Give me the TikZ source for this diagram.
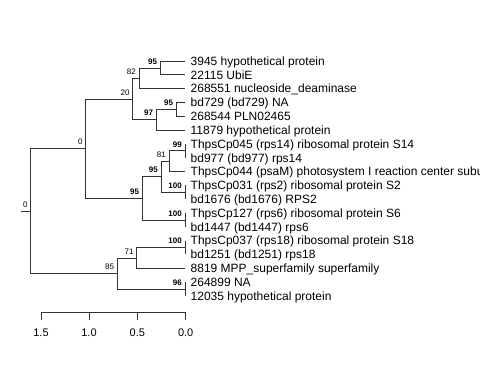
\documentclass[tikz,border=0pt]{standalone}
\usepackage{fontspec}
\setmainfont{Liberation Sans}
\usetikzlibrary{positioning}
\usetikzlibrary{calc}
\tikzset{
  % tree styles
  branch/.style={draw=black!80, line width=0.8pt},
  leaf/.style={anchor=base west, inner sep=0pt, xshift=5.5pt, yshift=-4.3pt, font=\fontsize{12}{14}\selectfont},
  boot/.style={anchor=south east, inner sep=0pt, xshift=-3pt, yshift=3.5pt, font=\fontsize{8}{9}\selectfont},
  bootbf/.style={boot, font=\fontsize{8}{9}\selectfont\bfseries},
  scalelab/.style={anchor=base, inner sep=0pt, yshift=-3.9pt, font=\fontsize{11}{13}\selectfont}
}

\begin{document}
\begin{tikzpicture}[x=1pt, y=-1pt]
    \useasboundingbox (0,0) rectangle (480,384);
    \clip (0,0) rectangle (480,384);

    % Leaves
    \foreach \i/\lab in {1/{3945 hypothetical protein}, 2/{22115 UbiE},
        3/{268551 nucleoside\_deaminase}, 4/{bd729 (bd729) NA}, 5/{268544 PLN02465},
        6/{11879 hypothetical protein}, 7/{ThpsCp045 (rps14) ribosomal protein S14},
        8/{bd977 (bd977) rps14}, 9/{ThpsCp044 (psaM) photosystem I reaction center subu},
        10/{ThpsCp031 (rps2) ribosomal protein S2}, 11/{bd1676 (bd1676) RPS2},
        12/{ThpsCp127 (rps6) ribosomal protein S6}, 13/{bd1447 (bd1447) rps6},
        14/{ThpsCp037 (rps18) ribosomal protein S18}, 15/{bd1251 (bd1251) rps18},
        16/{8819 MPP\_superfamily superfamily}, 17/{264899 NA}, 18/{12035 hypothetical protein}}{
      \coordinate (l\i) at (185, {61+13.82*(\i-1)});
      \node[leaf] (t\i) at (l\i) {\lab};
    }

    % Internal nodes
    \coordinate (rstub) at (20.7,211.1);
    \coordinate (root) at (30.7,211.1);
    \coordinate (nA) at (85.7,148.65);
    \coordinate (n20) at (132.7,99.0);
    \coordinate (n82) at (139,78.25);
    \coordinate (n95a) at (160.3,67.9);
    \coordinate (n97) at (156.3,119.75);
    \coordinate (n95b) at (176.3,109.4);
    \coordinate (nL) at (142.3,198.3);
    \coordinate (nM) at (161,176.75);
    \coordinate (n81) at (169,161.2);
    \coordinate (n99) at (185,150.8);
    \coordinate (n100a) at (185,192.3);
    \coordinate (n100b) at (185,219.9);
    \coordinate (nB) at (117.3,273.5);
    \coordinate (n71) at (136.7,257.95);
    \coordinate (n100c) at (185,247.6);
    \coordinate (n96) at (185,289.0);

    % Branches
    \draw[branch] (rstub) -- (root);
    \foreach \p/\c in {root/nA, root/nB, nA/n20, nA/nL, n20/n82, n20/n97,
        n82/n95a, n82/l3, n95a/l1, n95a/l2, n97/n95b, n97/l6, n95b/l4, n95b/l5,
        nL/nM, nL/n100b, nM/n81, nM/n100a, n81/n99, n81/l9, n99/l7, n99/l8,
        n100a/l10, n100a/l11, n100b/l12, n100b/l13, nB/n71, nB/n96,
        n71/n100c, n71/l16, n100c/l14, n100c/l15, n96/l17, n96/l18}
      \draw[branch] (\p) |- (\c);

    % Bootstrap values
    \node[boot] (b0r) at (root) {0};
    \node[boot] (b0) at (nA) {0};
    \node[boot] (b20) at (n20) {20};
    \node[boot] (b82) at (n82) {82};
    \node[bootbf] (b95a) at (n95a) {95};
    \node[bootbf] (b97) at (n97) {97};
    \node[bootbf] (b95b) at (n95b) {95};
    \node[bootbf] (b95L) at (nL) {95};
    \node[bootbf] (b95M) at (nM) {95};
    \node[boot] (b81) at (n81) {81};
    \node[bootbf] (b99) at (n99) {99};
    \node[bootbf] (b100a) at (n100a) {100};
    \node[bootbf] (b100b) at (n100b) {100};
    \node[boot] (b85) at (nB) {85};
    \node[boot] (b71) at (n71) {71};
    \node[bootbf] (b100c) at (n100c) {100};
    \node[bootbf] (b96) at (n96) {96};

    % Scale axis
    \coordinate (s15) at (41,312.5);
    \coordinate (s10) at (89,312.5);
    \coordinate (s05) at (137.3,312.5);
    \coordinate (s00) at (185.7,312.5);
    \draw[branch] (s15) -- (s00);
    \foreach \s/\v in {s15/1.5, s10/1.0, s05/0.5, s00/0.0}{
      \draw[branch] (\s) -- ++(0,7);
      \node[scalelab] (lab\s) at ($(\s)+(0,20.5)$) {\v};
    }
\end{tikzpicture}
\end{document}
